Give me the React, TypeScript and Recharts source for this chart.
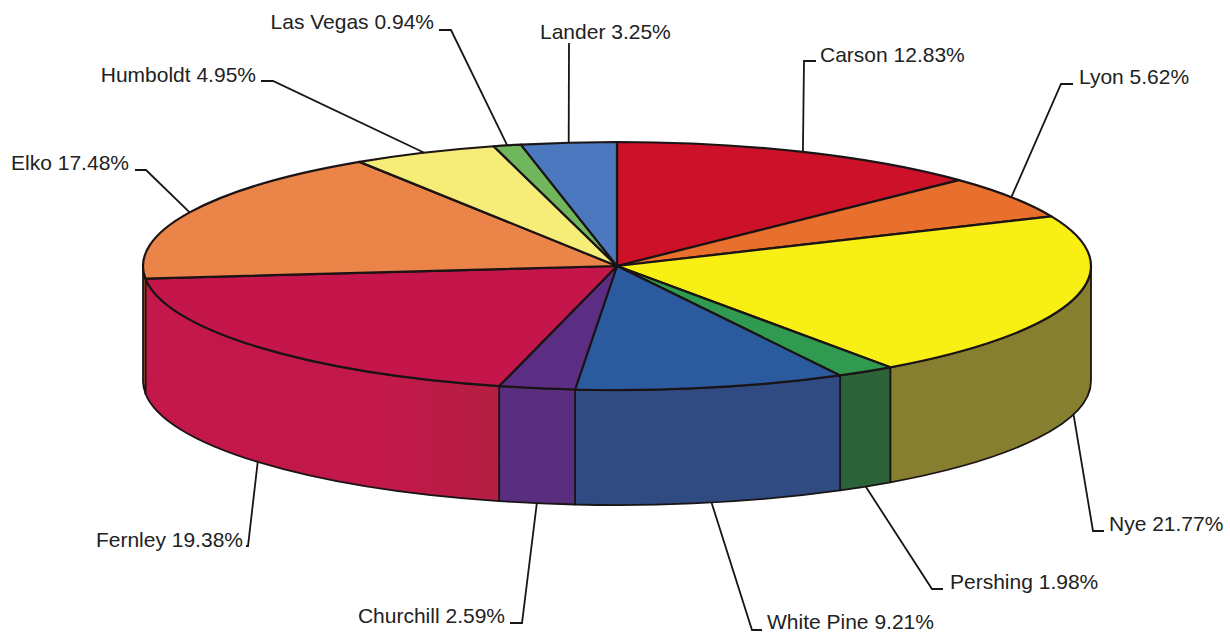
import { Pie, PieChart } from "recharts";

const counties = [
  "Carson",
  "Lyon",
  "Nye",
  "Pershing",
  "White Pine",
  "Churchill",
  "Fernley",
  "Elko",
  "Humboldt",
  "Las Vegas",
  "Lander",
];
const shares = [12.83, 5.62, 21.77, 1.98, 9.21, 2.59, 19.38, 17.48, 4.95, 0.94, 3.25];

const topColors = [
  "#CC1129",
  "#E8702C",
  "#F8EF14",
  "#2F9A50",
  "#2C5A9E",
  "#5B2E84",
  "#C4164A",
  "#EA8448",
  "#F6EC78",
  "#6FB65C",
  "#4B78BF",
];
const wallColors = [
  "#A00E20",
  "#B85822",
  "#877F30",
  "#2D6339",
  "#2F4B82",
  "#5A2E7F",
  "url(#fernleyWall)",
  "#C96A35",
  "#C4BB5E",
  "#55904A",
  "#3A5E98",
];

const table = counties.map((name, i) => ({
  name,
  value: shares[i],
  top: topColors[i],
  wall: wallColors[i],
}));

// Leader elbows and text anchors, one per county in the same order.
const labelLayout = [
  { elbow: [804, 61], end: [816, 61], text: [820, 62], anchor: "start" },
  { elbow: [1061, 84], end: [1073, 84], text: [1079, 84], anchor: "start" },
  { elbow: [1093, 531], end: [1104, 531], text: [1109, 531], anchor: "start" },
  { elbow: [932, 589], end: [943, 589], text: [950, 589], anchor: "start" },
  { elbow: [752, 630], end: [762, 630], text: [767, 629], anchor: "start" },
  { elbow: [522, 623], end: [510, 623], text: [505, 623], anchor: "end" },
  { elbow: [248, 546], end: [246, 546], text: [243, 547], anchor: "end" },
  { elbow: [146, 170], end: [135, 170], text: [129, 170], anchor: "end" },
  { elbow: [273, 81], end: [261, 81], text: [256, 82], anchor: "end" },
  { elbow: [451, 30], end: [439, 30], text: [434, 29], anchor: "end" },
  { elbow: [569, 43], end: [569, 43], text: [540, 39], anchor: "start" },
];

const CX = 617;
const CY = 266;
const RADIUS = 474;
const SQUASH = 124 / 474; // minor axis of the disc over its major axis
const DEPTH = 115;
const INK = "#1B1416";
const RAD = Math.PI / 180;

// Point on the tilted disc's rim for a Recharts angle (degrees, counter-clockwise from east).
function rim(cx: number, cy: number, r: number, angle: number, drop = 0) {
  return {
    x: cx + r * Math.cos(angle * RAD),
    y: cy - r * SQUASH * Math.sin(angle * RAD) + drop,
  };
}

function TopFace(props: any) {
  const { cx, cy, outerRadius: r, startAngle, endAngle, payload } = props;
  const a = rim(cx, cy, r, startAngle);
  const b = rim(cx, cy, r, endAngle);
  const large = startAngle - endAngle > 180 ? 1 : 0;
  return (
    <path
      d={`M${cx} ${cy}L${a.x} ${a.y}A${r} ${r * SQUASH} 0 ${large} 1 ${b.x} ${b.y}Z`}
      fill={payload.top}
      stroke={INK}
      strokeWidth={2.2}
      strokeLinejoin="round"
    />
  );
}

// Outer wall: only the part of a slice on the front half of the disc is visible.
function WallFace(props: any) {
  const { cx, cy, outerRadius: r, startAngle, endAngle, payload } = props;
  const from = Math.min(startAngle, 0);
  const to = Math.max(endAngle, -180);
  if (from <= to) return <g />;
  const a = rim(cx, cy, r, from);
  const b = rim(cx, cy, r, to);
  const ry = r * SQUASH;
  return (
    <path
      d={`M${a.x} ${a.y}A${r} ${ry} 0 0 1 ${b.x} ${b.y}L${b.x} ${b.y + DEPTH}A${r} ${ry} 0 0 0 ${a.x} ${a.y + DEPTH}Z`}
      fill={payload.wall}
      stroke={INK}
      strokeWidth={1.8}
      strokeLinejoin="round"
    />
  );
}

function CountyLabel(props: any) {
  const { cx, cy, outerRadius: r, midAngle, index, name, value } = props;
  const layout = labelLayout[index];
  // Front slices hang their leader from the wall's lower edge.
  const front = Math.sin(midAngle * RAD) < 0;
  const start = rim(cx, cy, r, midAngle, front ? DEPTH : 0);
  const pts = [[start.x, start.y], layout.elbow, layout.end]
    .map((p) => p.join(","))
    .join(" ");
  return (
    <g>
      <polyline points={pts} fill="none" stroke={INK} strokeWidth={1.8} />
      <text
        x={layout.text[0]}
        y={layout.text[1]}
        textAnchor={layout.anchor as "start" | "end"}
        fontFamily="Liberation Sans, Arial, sans-serif"
        fontSize={21}
        fill="#222"
      >
        {`${name} ${value.toFixed(2)}%`}
      </text>
    </g>
  );
}

export default function App() {
  return (
    <div style={{ position: "absolute", left: 0, top: 0, width: 1230, height: 634, background: "#fff" }}>
      <PieChart width={1230} height={634} margin={{ top: 0, right: 0, bottom: 0, left: 0 }}>
        <defs>
          <linearGradient id="fernleyWall" x1="0" y1="0" x2="1" y2="0">
            <stop offset="0" stopColor="#C4174A" />
            <stop offset="0.7" stopColor="#C2184A" />
            <stop offset="1" stopColor="#B41F42" />
          </linearGradient>
        </defs>
        <Pie
          data={table}
          dataKey="value"
          nameKey="name"
          cx={CX}
          cy={CY}
          outerRadius={RADIUS}
          startAngle={90}
          endAngle={-270}
          shape={WallFace}
          isAnimationActive={false}
        />
        <Pie
          data={table}
          dataKey="value"
          nameKey="name"
          cx={CX}
          cy={CY}
          outerRadius={RADIUS}
          startAngle={90}
          endAngle={-270}
          shape={TopFace}
          label={CountyLabel}
          labelLine={false}
          isAnimationActive={false}
        />
      </PieChart>
    </div>
  );
}
